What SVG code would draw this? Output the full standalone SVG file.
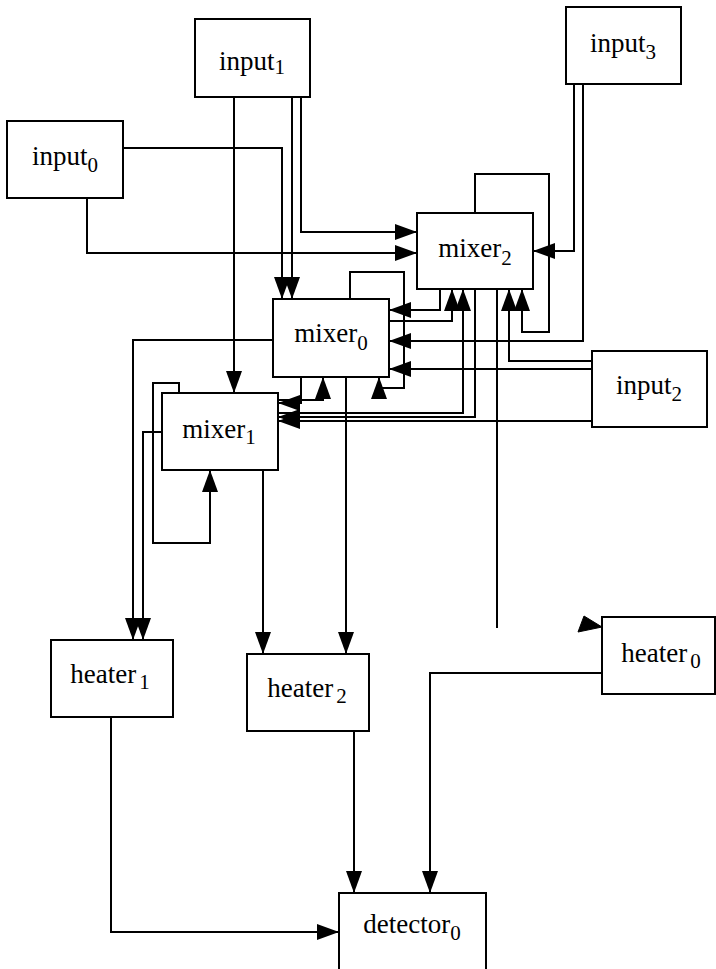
<svg xmlns="http://www.w3.org/2000/svg" width="716" height="969" viewBox="0 0 716 969">
<style>
.n rect{fill:#fff;stroke:#000;stroke-width:2}
.n text{font-family:"Liberation Serif","Times New Roman",serif;font-size:27px;fill:#000;text-anchor:middle}
.n tspan{font-size:21px}
.e path{fill:none;stroke:#000;stroke-width:2;marker-end:url(#ah)}
.e path.na{marker-end:none}
.e polygon{fill:#000;stroke:#000;stroke-width:1}
</style>
<defs>
<marker id="ah" viewBox="0 0 22 16" refX="22" refY="8" markerWidth="22" markerHeight="16" markerUnits="userSpaceOnUse" orient="auto">
<path d="M0,0 L22,8 L0,16 z" fill="#000"/>
</marker>
</defs>
<rect width="716" height="969" fill="#fff"/>
<g id="edges" class="e">
<path d="M234,97 V393"/>
<path d="M292,97 V299"/>
<path d="M301,97 V232 H417"/>
<path d="M123,148 H282 V299"/>
<path d="M87,198 V253 H417"/>
<path d="M574,84 V251 H533"/>
<path d="M583,84 V341 H389"/>
<path d="M475,213 V174 H549 V332 H522 V289"/>
<path d="M440,289 V310 H389"/>
<path d="M389,321 H452 V289"/>
<path d="M278,413 H463 V289"/>
<path d="M475,289 V417 H278"/>
<path d="M592,361 H509 V289"/>
<path d="M592,369 H389"/>
<path d="M592,421 H278"/>
<path d="M350,299 V272 H404 V388 H379 V377"/>
<path d="M301,377 V403 H278"/>
<path d="M278,400 H323 V377"/>
<path d="M273,340 H133 V640"/>
<path d="M162,432 H143 V640"/>
<path d="M179,393 V383 H153 V543 H210 V470"/>
<path d="M263,470 V654"/>
<path d="M346,377 V654"/>
<path class="na" d="M497,289 V628"/>
<polygon points="578,632 584,616 602,627"/>
<path d="M602,673 H430 V893"/>
<path d="M354,731 V893"/>
<path d="M111,717 V932 H339"/>
</g>
<g id="input_1" class="n"><rect x="195" y="19" width="115" height="78"/><text x="252" y="70">input<tspan dy="4">1</tspan></text></g>
<g id="input_0" class="n"><rect x="7" y="121" width="116" height="77"/><text x="65" y="165">input<tspan dy="7">0</tspan></text></g>
<g id="input_3" class="n"><rect x="566" y="7" width="115" height="77"/><text x="623" y="52">input<tspan dy="7">3</tspan></text></g>
<g id="mixer_2" class="n"><rect x="417" y="213" width="116" height="76"/><text x="475" y="257">mixer<tspan dy="8">2</tspan></text></g>
<g id="mixer_0" class="n"><rect x="273" y="299" width="116" height="78"/><text x="331" y="342">mixer<tspan dy="8">0</tspan></text></g>
<g id="mixer_1" class="n"><rect x="162" y="393" width="116" height="77"/><text x="219" y="438">mixer<tspan dy="6">1</tspan></text></g>
<g id="input_2" class="n"><rect x="592" y="351" width="115" height="76"/><text x="649" y="394">input<tspan dy="7">2</tspan></text></g>
<g id="heater_1" class="n"><rect x="51" y="640" width="122" height="77"/><text x="110" y="683">heater<tspan dx="3" dy="6">1</tspan></text></g>
<g id="heater_2" class="n"><rect x="247" y="654" width="122" height="77"/><text x="307" y="697">heater<tspan dx="3" dy="6">2</tspan></text></g>
<g id="heater_0" class="n"><rect x="602" y="617" width="113" height="77"/><text x="661" y="662">heater<tspan dx="3" dy="6">0</tspan></text></g>
<g id="detector_0" class="n"><rect x="339" y="893" width="147" height="90"/><text x="412" y="933">detector<tspan dy="7">0</tspan></text></g>
</svg>
